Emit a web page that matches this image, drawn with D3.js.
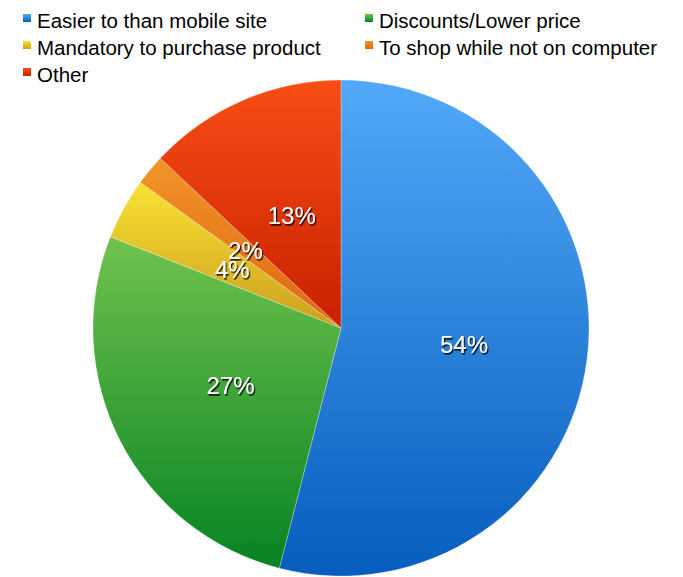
<!DOCTYPE html>
<html>
<head>
<meta charset="utf-8">
<script src="https://cdn.jsdelivr.net/npm/d3@7"></script>
<style>
  body { margin: 0; background: #fff; }
  svg { display: block; font-family: "Liberation Sans", Arial, Helvetica, sans-serif; }
</style>
</head>
<body>
<svg width="683" height="577"></svg>
<script>
// data
var categories = ["Easier to than mobile site", "Discounts/Lower price", "Mandatory to purchase product", "To shop while not on computer", "Other"];
var values = [54, 27, 4, 2, 13];
var labels = ["54%", "27%", "4%", "2%", "13%"];

// gradient ends per slice (top, bottom)
var topColors = ["#52a9f9", "#70c34d", "#f9e335", "#f29428", "#f94d15"];
var bottomColors = ["#075dbd", "#068323", "#cc9e1e", "#de6710", "#c92000"];

var svg = d3.select("svg");
var cx = 341, cy = 328, R = 248;

var defs = svg.append("defs");
categories.forEach(function (c, i) {
    var g = defs.append("linearGradient")
        .attr("id", "grad" + i)
        .attr("x1", 0).attr("y1", 0).attr("x2", 0).attr("y2", 1);
    g.append("stop").attr("offset", "0%").attr("stop-color", topColors[i]);
    g.append("stop").attr("offset", "100%").attr("stop-color", bottomColors[i]);
});

// drop shadow for the white percentage labels
var shadow = defs.append("filter")
    .attr("id", "shadow")
    .attr("x", "-20%").attr("y", "-20%")
    .attr("width", "140%").attr("height", "140%");
shadow.append("feDropShadow")
    .attr("dx", 1.2).attr("dy", 1.6)
    .attr("stdDeviation", 0.4)
    .attr("flood-color", "#000")
    .attr("flood-opacity", 0.9);

var pie = d3.pie().sort(null).value(function (d) { return d; });
var arcs = pie(values);
var arc = d3.arc().innerRadius(0).outerRadius(R);
var labelArc = d3.arc().innerRadius(R / 2).outerRadius(R / 2);

var g = svg.append("g").attr("transform", "translate(" + cx + "," + cy + ")");

// slices
g.selectAll("path.slice")
    .data(arcs)
    .enter()
    .append("path")
    .attr("class", "slice")
    .attr("d", arc)
    .attr("fill", function (d, i) { return "url(#grad" + i + ")"; })
    .attr("stroke", "#ffffff")
    .attr("stroke-opacity", 0.45)
    .attr("stroke-width", 0.6);

// percentage labels
g.selectAll("text.lab")
    .data(arcs)
    .enter()
    .append("text")
    .attr("class", "lab")
    .attr("transform", function (d) {
        var c = labelArc.centroid(d);
        return "translate(" + c[0] + "," + c[1] + ")";
    })
    .attr("text-anchor", "middle")
    .attr("dy", "0.4em")
    .attr("font-size", 24)
    .attr("fill", "#fff")
    .attr("filter", "url(#shadow)")
    .text(function (d, i) { return labels[i]; });

// legend, two columns
var colX = [23, 365];
var rowY = [28, 55, 82];
var legend = svg.selectAll("g.legend")
    .data(categories)
    .enter()
    .append("g")
    .attr("class", "legend")
    .attr("transform", function (d, i) {
        return "translate(" + colX[i % 2] + "," + rowY[Math.floor(i / 2)] + ")";
    });
legend.append("rect")
    .attr("x", 0).attr("y", -14)
    .attr("width", 8).attr("height", 8)
    .attr("fill", function (d, i) { return "url(#grad" + i + ")"; });
legend.append("text")
    .attr("x", 14)
    .attr("y", 0)
    .attr("font-size", 20.5)
    .attr("fill", "#000")
    .text(function (d) { return d; });
</script>
</body>
</html>
